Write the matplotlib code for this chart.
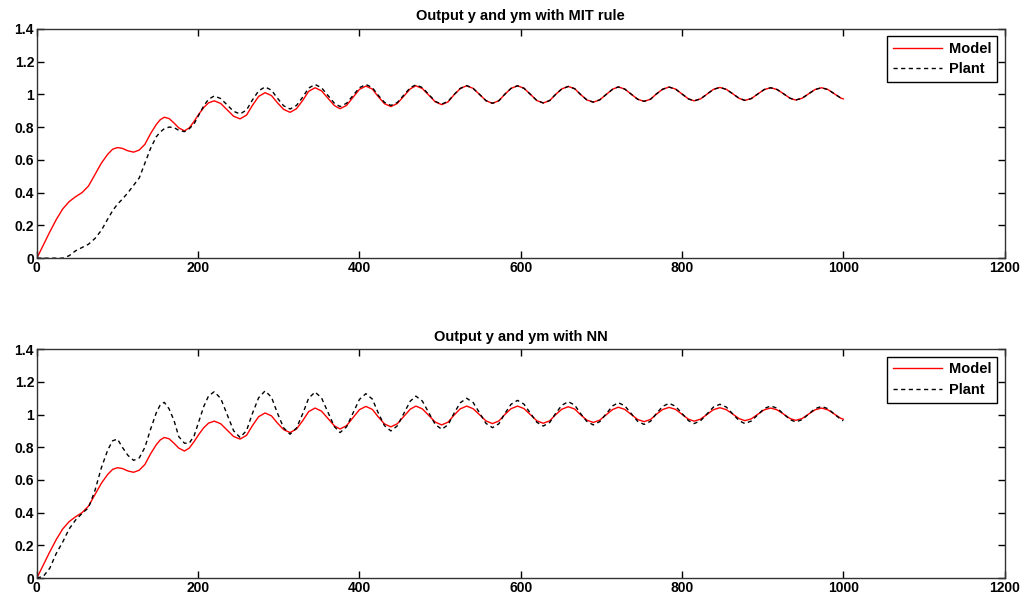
import matplotlib.pyplot as plt
from matplotlib.ticker import FixedLocator, FixedFormatter

# sample positions (time steps)
t = [0, 8, 16, 24, 32, 40, 48, 56, 64, 72, 80, 88, 94, 100, 106, 113, 120, 127,
     134, 141, 148, 153, 158, 164, 170, 176, 183, 189, 195, 201, 207, 213,
     220, 228, 236, 244, 252, 260, 267, 275, 283, 291, 298, 306, 314, 322, 330,
     337, 345, 353, 361, 369, 376, 384, 392, 400, 408, 416, 423, 431, 439, 447,
     455, 463, 470, 478, 486, 494, 502, 510, 517, 525, 533, 541, 549, 557, 565,
     573, 580, 588, 596, 604, 612, 620, 628, 636, 643, 651, 659, 667, 674, 682,
     690, 698, 706, 714, 721, 729, 737, 745, 753, 761, 768, 776, 784, 792, 800,
     808, 815, 823, 831, 839, 847, 855, 863, 871, 878, 886, 894, 902, 910, 918,
     926, 934, 941, 949, 957, 965, 973, 981, 989, 997, 1000]

# reference model output ym (same in both panels)
model = [0, 0.08, 0.16, 0.235, 0.30, 0.345, 0.375, 0.40, 0.44, 0.51, 0.58, 0.635,
         0.665, 0.675, 0.67, 0.655, 0.647, 0.66, 0.695, 0.76, 0.815, 0.845, 0.86,
         0.852, 0.825, 0.795, 0.777, 0.795, 0.835, 0.88, 0.92, 0.948,
         0.96, 0.944, 0.905, 0.866, 0.85, 0.873, 0.93, 0.987, 1.01, 0.992, 0.95,
         0.908, 0.89, 0.912, 0.965, 1.018, 1.04, 1.021, 0.976, 0.931, 0.912, 0.932,
         0.981, 1.03, 1.05, 1.032, 0.988, 0.943, 0.925, 0.944, 0.989, 1.033, 1.052,
         1.035, 0.995, 0.954, 0.937, 0.954, 0.995, 1.035, 1.052, 1.036, 0.999,
         0.961, 0.945, 0.961, 0.999, 1.036, 1.052, 1.037, 1.0, 0.962, 0.947, 0.962,
         0.998, 1.033, 1.048, 1.034, 1.0, 0.966, 0.952, 0.966, 0.999, 1.031, 1.045,
         1.032, 1.001, 0.97, 0.957, 0.97, 1.001, 1.031, 1.044, 1.032, 1.002, 0.972,
         0.96, 0.972, 1.001, 1.03, 1.042, 1.03, 1.003, 0.975, 0.963, 0.974, 1.002,
         1.029, 1.04, 1.029, 1.003, 0.976, 0.965, 0.976, 1.003, 1.029, 1.04, 1.029,
         1.003, 0.977, 0.972]

# plant output y, MIT rule
plant_mit = [0, 0, 0, 0, 0, 0.015, 0.045, 0.065, 0.085, 0.12, 0.17, 0.24, 0.29,
             0.33, 0.36, 0.40, 0.445, 0.49, 0.58, 0.67, 0.74, 0.77, 0.79, 0.80,
             0.797, 0.78, 0.772, 0.79, 0.82, 0.875, 0.93, 0.97,
             0.99, 0.974, 0.935, 0.896, 0.88, 0.904, 0.963, 1.021, 1.045, 1.025,
             0.978, 0.93, 0.91, 0.932, 0.985, 1.038, 1.06, 1.04, 0.993, 0.945, 0.925,
             0.945, 0.993, 1.04, 1.06, 1.041, 0.996, 0.951, 0.932, 0.95, 0.995, 1.04,
             1.058, 1.041, 0.999, 0.957, 0.94, 0.957, 0.997, 1.036, 1.053, 1.036,
             0.999, 0.961, 0.945, 0.961, 0.999, 1.036, 1.052, 1.037, 1.0, 0.962,
             0.947, 0.962, 0.998, 1.033, 1.048, 1.034, 1.0, 0.966, 0.952, 0.966,
             0.999, 1.031, 1.045, 1.032, 1.001, 0.97, 0.957, 0.97, 1.001, 1.031,
             1.044, 1.032, 1.002, 0.972, 0.96, 0.972, 1.001, 1.03, 1.042, 1.03,
             1.003, 0.975, 0.963, 0.974, 1.002, 1.029, 1.04, 1.029, 1.003, 0.976,
             0.965, 0.976, 1.003, 1.029, 1.04, 1.029, 1.003, 0.977, 0.972]

# plant output y, NN controller
plant_nn = [0, 0.01, 0.06, 0.15, 0.22, 0.30, 0.355, 0.395, 0.43, 0.535, 0.675,
            0.785, 0.84, 0.85, 0.80, 0.75, 0.72, 0.735, 0.80, 0.91, 1.01, 1.06,
            1.075, 1.035, 0.965, 0.865, 0.825, 0.825, 0.87, 0.96, 1.05, 1.115,
            1.14, 1.099, 1.0, 0.901, 0.86, 0.902, 1.003, 1.103, 1.145, 1.106, 1.013,
            0.919, 0.88, 0.918, 1.009, 1.1, 1.138, 1.102, 1.014, 0.926, 0.89, 0.925,
            1.009, 1.093, 1.128, 1.095, 1.014, 0.933, 0.90, 0.931, 1.007, 1.082,
            1.113, 1.083, 1.012, 0.94, 0.91, 0.938, 1.005, 1.072, 1.10, 1.074, 1.01,
            0.946, 0.92, 0.944, 1.004, 1.063, 1.087, 1.064, 1.009, 0.953, 0.93,
            0.952, 1.005, 1.057, 1.079, 1.058, 1.008, 0.958, 0.937, 0.957, 1.005,
            1.053, 1.073, 1.054, 1.007, 0.959, 0.94, 0.959, 1.005, 1.05, 1.069,
            1.051, 1.007, 0.963, 0.945, 0.962, 1.004, 1.046, 1.063, 1.046, 1.004,
            0.962, 0.945, 0.961, 0.999, 1.037, 1.053, 1.039, 1.004, 0.969, 0.955,
            0.969, 1.003, 1.036, 1.05, 1.036, 1.003, 0.97, 0.962]

titles = ["Output y and ym with MIT rule", "Output y and ym with NN"]
xticks = [0, 200, 400, 600, 800, 1000, 1200]
yticks = [0, 0.2, 0.4, 0.6, 0.8, 1.0, 1.2, 1.4]
ytick_labels = ["0", "0.2", "0.4", "0.6", "0.8", "1", "1.2", "1.4"]

plt.rcParams['font.family'] = ['Liberation Sans', 'DejaVu Sans']
plt.rcParams['font.weight'] = 'bold'

fig = plt.figure(figsize=(10.24, 5.99), dpi=100)
ax1 = fig.add_axes([0.036, 0.569, 0.945, 0.383])
ax2 = fig.add_axes([0.036, 0.035, 0.945, 0.382])

for ax, plant, title in zip([ax1, ax2], [plant_mit, plant_nn], titles):
    ax.plot(t, model, color='red', linewidth=1.0, label='Model')
    ax.plot(t, plant, color='black', linewidth=1.0, linestyle=(0, (3, 2.5)),
            label='Plant')
    ax.set_xlim(0, 1200)
    ax.set_ylim(0, 1.4)
    ax.xaxis.set_major_locator(FixedLocator(xticks))
    ax.yaxis.set_major_locator(FixedLocator(yticks))
    ax.yaxis.set_major_formatter(FixedFormatter(ytick_labels))
    ax.tick_params(direction='in', top=True, right=True, length=5, width=1,
                   labelsize=10, pad=2)
    for s in ax.spines.values():
        s.set_linewidth(1.0)
        s.set_color('#333333')
    ax.set_title(title, fontsize=10.5, fontweight='bold', pad=6)
    ax.legend(loc='upper right', fontsize=10.5, handlelength=3.4,
              fancybox=False, edgecolor='black', framealpha=1,
              borderaxespad=0.5, handletextpad=0.45, labelspacing=0.45,
              borderpad=0.4)

fig.savefig('out.png', dpi=100)
